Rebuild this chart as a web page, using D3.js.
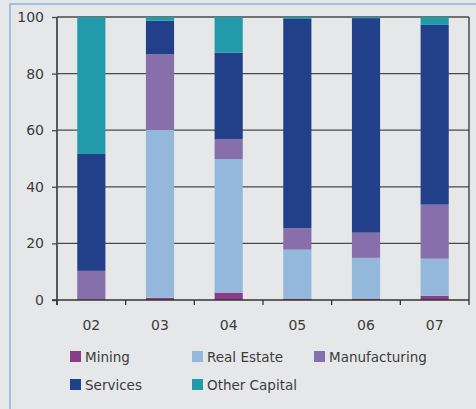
<!DOCTYPE html>
<html>
<head>
<meta charset="utf-8">
<script src="https://cdn.jsdelivr.net/npm/d3@7/dist/d3.min.js"></script>
<style>
  html, body { margin: 0; padding: 0; background: #e6e7e9; }
  svg { display: block; }
  text { font-family: "DejaVu Sans", sans-serif; fill: #3c3c3c; }
</style>
</head>
<body>
<svg id="chart" width="476" height="409"></svg>
<script>
// Years on the x axis
const years = ["02", "03", "04", "05", "06", "07"];

// Share of each sector per year (percent)
const mining        = [0.0, 0.8, 2.6, 0.5, 0.5, 1.5];
const realEstate    = [0.0, 59.3, 47.2, 17.3, 14.4, 13.1];
const manufacturing = [10.3, 26.8, 7.1, 7.6, 8.9, 19.1];
const services      = [41.3, 11.8, 30.5, 73.9, 75.8, 63.5];
const otherCapital  = [48.4, 1.3, 12.6, 0.7, 0.4, 2.8];

const seriesNames = ["Mining", "Real Estate", "Manufacturing", "Services", "Other Capital"];
const seriesValues = [mining, realEstate, manufacturing, services, otherCapital];
const colors = ["#8c3b8a", "#93b8dc", "#866fab", "#223f89", "#229aa9"];

const yTicks = [0, 20, 40, 60, 80, 100];

const rows = years.map((yr, i) => {
  const r = { year: yr };
  seriesNames.forEach((n, k) => { r[n] = seriesValues[k][i]; });
  return r;
});

const svg = d3.select("#chart");

// outer frame
svg.append("rect")
  .attr("x", 10).attr("y", 4)
  .attr("width", 480).attr("height", 420)
  .attr("fill", "#e6e7e9")
  .attr("stroke", "#9fc3e7").attr("stroke-width", 2);

const plotL = 57, plotR = 469, plotT = 17, plotB = 300;

const x = d3.scaleBand().domain(years).range([plotL, plotR]).paddingInner(0.59).paddingOuter(0.295);
const xb = d3.scaleBand().domain(years).range([plotL, plotR]);
const y = d3.scaleLinear().domain([0, 100]).range([plotB, plotT]);

// gridlines
svg.append("g").selectAll("line").data(yTicks.filter(t => t > 0)).join("line")
  .attr("x1", plotL).attr("x2", plotR)
  .attr("y1", d => y(d)).attr("y2", d => y(d))
  .attr("stroke", "#4a4a4a").attr("stroke-width", 1.3);

// right border of the plot
svg.append("line")
  .attr("x1", plotR).attr("x2", plotR).attr("y1", plotT).attr("y2", plotB)
  .attr("stroke", "#4a4a4a").attr("stroke-width", 1.5);

// stacked bars
const stack = d3.stack().keys(seriesNames)(rows);
svg.append("g").selectAll("g").data(stack).join("g")
  .attr("fill", (d, i) => colors[i])
  .selectAll("rect").data(d => d).join("rect")
  .attr("x", d => x(d.data.year))
  .attr("width", x.bandwidth())
  .attr("y", d => y(d[1]))
  .attr("height", d => Math.max(0, y(d[0]) - y(d[1])));

// y axis
const yAxis = d3.axisLeft(y).tickValues(yTicks).tickSize(5).tickPadding(8);
const gy = svg.append("g").attr("transform", `translate(${plotL},0)`).call(yAxis);
gy.select(".domain").remove();
gy.selectAll(".tick line").attr("stroke", "#4a4a4a").attr("stroke-width", 1.3);
gy.selectAll("text").attr("font-size", 14).attr("font-family", null).style("fill", "#3c3c3c");
svg.append("line")
  .attr("x1", plotL).attr("x2", plotL).attr("y1", plotT).attr("y2", plotB + 5)
  .attr("stroke", "#4a4a4a").attr("stroke-width", 1.8);

// x axis
svg.append("line")
  .attr("x1", plotL - 5).attr("x2", plotR).attr("y1", plotB).attr("y2", plotB)
  .attr("stroke", "#333").attr("stroke-width", 1.6);
const bounds = years.map(d => xb(d)).concat([plotR]);
svg.append("g").selectAll("line").data(bounds).join("line")
  .attr("x1", d => d).attr("x2", d => d)
  .attr("y1", plotB).attr("y2", plotB + 5)
  .attr("stroke", "#333").attr("stroke-width", 1.3);
svg.append("g").selectAll("text").data(years).join("text")
  .attr("x", d => xb(d) + xb.bandwidth() / 2)
  .attr("y", 330)
  .attr("text-anchor", "middle")
  .attr("font-size", 14)
  .text(d => d);

// legend
const legendPos = [[70, 357], [192, 357], [314, 357], [70, 385], [192, 385]];
const lg = svg.append("g").selectAll("g").data(seriesNames).join("g")
  .attr("transform", (d, i) => `translate(${legendPos[i][0]},${legendPos[i][1]})`);
lg.append("rect").attr("x", 0).attr("y", -6).attr("width", 11).attr("height", 11)
  .attr("fill", (d, i) => colors[i]);
lg.append("text").attr("x", 15).attr("y", 5).attr("font-size", 13.5).text(d => d);
</script>
</body>
</html>
